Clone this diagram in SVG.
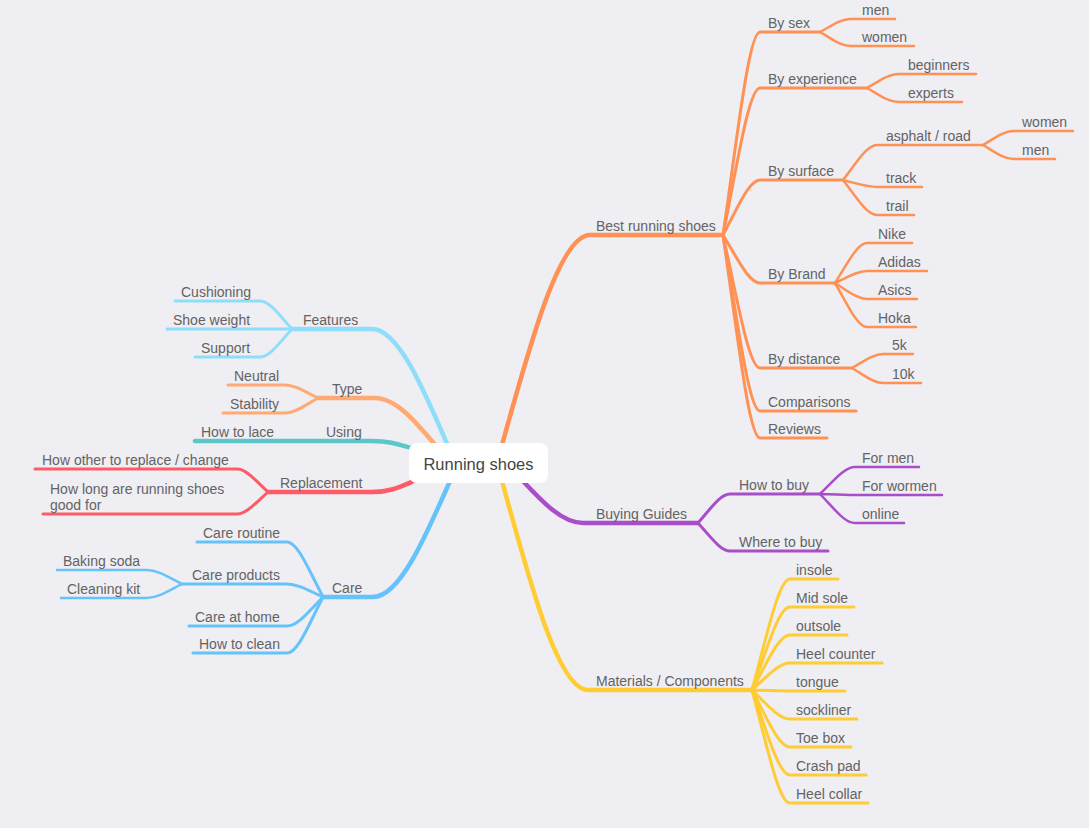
<svg xmlns="http://www.w3.org/2000/svg" width="1089" height="828" viewBox="0 0 1089 828">
<style>
text{font-family:"Liberation Sans",Arial,sans-serif;font-size:14px;fill:#636363}
.c{fill:none;stroke-linecap:round;stroke-linejoin:round}
.m{stroke-width:4.5}.s{stroke-width:3}.l{stroke-width:2.5}
.or{stroke:#FF9155}.pu{stroke:#A94EC9}.ye{stroke:#FFCC33}
.lb{stroke:#8EDEFB}.to{stroke:#FFAA72}.te{stroke:#5CC6C9}.re{stroke:#FF5B66}.bl{stroke:#66C3FA}
</style>
<rect width="1089" height="828" fill="#EFEEF3"/>
<g id="connectors">
<path class="c m or" d="M502 445 C531 340 560 235 590 235 H723"/>
<path class="c s or" d="M723 235 C737.8 133.5 748.9 32 760 32 H820"/>
<path class="c s or" d="M723 235 C737.8 161.5 748.9 88 760 88 H867"/>
<path class="c s or" d="M723 235 C737.8 207.5 748.9 180 760 180 H843"/>
<path class="c s or" d="M723 235 C737.8 259 748.9 283 760 283 H835"/>
<path class="c s or" d="M723 235 C737.8 301.5 748.9 368 760 368 H852"/>
<path class="c s or" d="M723 235 C737.8 323 748.9 411 760 411 H856"/>
<path class="c s or" d="M723 235 C737.8 336.5 748.9 438 760 438 H827"/>
<path class="c l or" d="M820 32 C832 25.5 841 19 850 19 H895"/>
<path class="c l or" d="M820 32 C832 39 841 46 850 46 H914"/>
<path class="c l or" d="M867 88 C879.4 81 888.7 74 898 74 H976"/>
<path class="c l or" d="M867 88 C879.4 95 888.7 102 898 102 H962"/>
<path class="c l or" d="M843 180 C856.6 162.5 866.8 145 877 145 H983"/>
<path class="c l or" d="M843 180 C856.6 183.5 866.8 187 877 187 H922"/>
<path class="c l or" d="M843 180 C856.6 197.5 866.8 215 877 215 H914"/>
<path class="c l or" d="M983 145 C995 138 1004 131 1013 131 H1073"/>
<path class="c l or" d="M983 145 C995 152 1004 159 1013 159 H1055"/>
<path class="c l or" d="M835 283 C847.8 263 857.4 243 867 243 H912"/>
<path class="c l or" d="M835 283 C847.8 277 857.4 271 867 271 H927"/>
<path class="c l or" d="M835 283 C847.8 291 857.4 299 867 299 H917"/>
<path class="c l or" d="M835 283 C847.8 305 857.4 327 867 327 H916"/>
<path class="c l or" d="M852 368 C864.4 361 873.7 354 883 354 H913"/>
<path class="c l or" d="M852 368 C864.4 375.5 873.7 383 883 383 H921"/>
<path class="c m pu" d="M522 480 C542 501.5 562 523 583 523 H698"/>
<path class="c s pu" d="M698 523 C710.8 508.5 720.4 494 730 494 H820"/>
<path class="c s pu" d="M698 523 C710.8 537 720.4 551 730 551 H828"/>
<path class="c l pu" d="M820 494 C834 480.5 844.5 467 855 467 H919"/>
<path class="c l pu" d="M820 494 C834 494.5 844.5 495 855 495 H942"/>
<path class="c l pu" d="M820 494 C834 508.5 844.5 523 855 523 H904"/>
<path class="c m ye" d="M502 481 C530.4 585.5 558.8 690 588 690 H752"/>
<path class="c s ye" d="M752 690 C767.2 634.5 778.6 579 790 579 H838"/>
<path class="c s ye" d="M752 690 C767.2 648.5 778.6 607 790 607 H854"/>
<path class="c s ye" d="M752 690 C767.2 662.5 778.6 635 790 635 H847"/>
<path class="c s ye" d="M752 690 C767.2 676.5 778.6 663 790 663 H882"/>
<path class="c s ye" d="M752 690 C767.2 690.5 778.6 691 790 691 H845"/>
<path class="c s ye" d="M752 690 C767.2 704.5 778.6 719 790 719 H857"/>
<path class="c s ye" d="M752 690 C767.2 718.5 778.6 747 790 747 H851"/>
<path class="c s ye" d="M752 690 C767.2 732.5 778.6 775 790 775 H866"/>
<path class="c s ye" d="M752 690 C767.2 746.5 778.6 803 790 803 H868"/>
<path class="c m lb" d="M448 446 C423 387.5 398 329 372 329 H292"/>
<path class="c s lb" d="M292 329 C279.2 315 269.6 301 260 301 H175"/>
<path class="c s lb" d="M292 329 H167"/>
<path class="c s lb" d="M292 329 C279.2 343 269.6 357 260 357 H195"/>
<path class="c m to" d="M436 446 C416 422 396 398 375 398 H318"/>
<path class="c s to" d="M318 398 C304.8 391.5 294.9 385 285 385 H228"/>
<path class="c s to" d="M318 398 C304.8 405.5 294.9 413 285 413 H223"/>
<path class="c m te" d="M414 449 C400 445 392 441 372 441 H195"/>
<path class="c m re" d="M414 481 C400 487 390 492 372 492 H268"/>
<path class="c s re" d="M268 492 C255.6 480.5 246.3 469 237 469 H35"/>
<path class="c s re" d="M268 492 C255.6 503 246.3 514 237 514 H43"/>
<path class="c m bl" d="M450 481 C424.6 539 399.2 597 373 597 H323"/>
<path class="c s bl" d="M323 597 C308.6 569.5 297.8 542 287 542 H197"/>
<path class="c s bl" d="M323 597 C308.6 590.5 297.8 584 287 584 H182"/>
<path class="c s bl" d="M323 597 C308.6 611.5 297.8 626 287 626 H189"/>
<path class="c s bl" d="M323 597 C308.6 625 297.8 653 287 653 H193"/>
<path class="c l bl" d="M182 584 C168 577 157.5 570 147 570 H57"/>
<path class="c l bl" d="M182 584 C168 591 157.5 598 147 598 H61"/>
</g>
<g id="root">
<rect x="409" y="443" width="139" height="40" rx="8" fill="#FFFFFF"/>
<text x="478.5" y="470" text-anchor="middle" style="font-size:16.5px;fill:#454545">Running shoes</text>
</g>
<g id="n-best"><text x="596" y="231">Best running shoes</text></g>
<g id="n-bysex"><text x="768" y="28">By sex</text></g>
<g id="n-sex-men"><text x="862" y="15">men</text></g>
<g id="n-sex-women"><text x="862" y="42">women</text></g>
<g id="n-byexp"><text x="768" y="84">By experience</text></g>
<g id="n-beginners"><text x="908" y="70">beginners</text></g>
<g id="n-experts"><text x="908" y="98">experts</text></g>
<g id="n-bysurface"><text x="768" y="176">By surface</text></g>
<g id="n-asphalt"><text x="886" y="141">asphalt / road</text></g>
<g id="n-asph-women"><text x="1022" y="127">women</text></g>
<g id="n-asph-men"><text x="1022" y="155">men</text></g>
<g id="n-track"><text x="886" y="183">track</text></g>
<g id="n-trail"><text x="886" y="211">trail</text></g>
<g id="n-bybrand"><text x="768" y="279">By Brand</text></g>
<g id="n-nike"><text x="878" y="239">Nike</text></g>
<g id="n-adidas"><text x="878" y="267">Adidas</text></g>
<g id="n-asics"><text x="878" y="295">Asics</text></g>
<g id="n-hoka"><text x="878" y="323">Hoka</text></g>
<g id="n-bydistance"><text x="768" y="364">By distance</text></g>
<g id="n-5k"><text x="892" y="350">5k</text></g>
<g id="n-10k"><text x="892" y="379">10k</text></g>
<g id="n-comparisons"><text x="768" y="407">Comparisons</text></g>
<g id="n-reviews"><text x="768" y="434">Reviews</text></g>
<g id="n-buying"><text x="596" y="519">Buying Guides</text></g>
<g id="n-howtobuy"><text x="739" y="490">How to buy</text></g>
<g id="n-formen"><text x="862" y="463">For men</text></g>
<g id="n-forwormen"><text x="862" y="491">For wormen</text></g>
<g id="n-online"><text x="862" y="519">online</text></g>
<g id="n-wheretobuy"><text x="739" y="547">Where to buy</text></g>
<g id="n-materials"><text x="596" y="686">Materials / Components</text></g>
<g id="n-insole"><text x="796" y="575">insole</text></g>
<g id="n-midsole"><text x="796" y="603">Mid sole</text></g>
<g id="n-outsole"><text x="796" y="631">outsole</text></g>
<g id="n-heelcounter"><text x="796" y="659">Heel counter</text></g>
<g id="n-tongue"><text x="796" y="687">tongue</text></g>
<g id="n-sockliner"><text x="796" y="715">sockliner</text></g>
<g id="n-toebox"><text x="796" y="743">Toe box</text></g>
<g id="n-crashpad"><text x="796" y="771">Crash pad</text></g>
<g id="n-heelcollar"><text x="796" y="799">Heel collar</text></g>
<g id="n-features"><text x="303" y="325">Features</text></g>
<g id="n-cushioning"><text x="181" y="297">Cushioning</text></g>
<g id="n-shoeweight"><text x="173" y="325">Shoe weight</text></g>
<g id="n-support"><text x="201" y="353">Support</text></g>
<g id="n-type"><text x="332" y="394">Type</text></g>
<g id="n-neutral"><text x="234" y="381">Neutral</text></g>
<g id="n-stability"><text x="230" y="409">Stability</text></g>
<g id="n-using"><text x="326" y="437">Using</text></g>
<g id="n-howtolace"><text x="201" y="437">How to lace</text></g>
<g id="n-replacement"><text x="280" y="488">Replacement</text></g>
<g id="n-howother"><text x="42" y="465">How other to replace / change</text></g>
<g id="n-howlong"><text x="50" y="494">How long are running shoes<tspan x="50" y="510">good for</tspan></text></g>
<g id="n-care"><text x="332" y="593">Care</text></g>
<g id="n-careroutine"><text x="203" y="538">Care routine</text></g>
<g id="n-careproducts"><text x="192" y="580">Care products</text></g>
<g id="n-bakingsoda"><text x="63" y="566">Baking soda</text></g>
<g id="n-cleaningkit"><text x="67" y="594">Cleaning kit</text></g>
<g id="n-careathome"><text x="195" y="622">Care at home</text></g>
<g id="n-howtoclean"><text x="199" y="649">How to clean</text></g>
</svg>
